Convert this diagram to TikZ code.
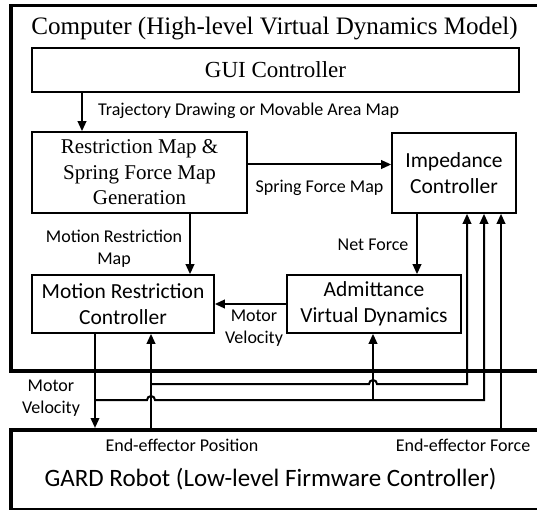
\documentclass[tikz,border=0pt]{standalone}
\usepackage{fontspec}
\setmainfont{Liberation Serif}
\newfontfamily\sansf{Carlito}
\usetikzlibrary{arrows.meta}
\newcommand\lblfont{\sansf\fontsize{18}{22}\selectfont}
\newcommand\boxsans{\sansf\fontsize{21.5}{25.5}\selectfont}
\newcommand\boxserif{\fontsize{21}{25.5}\selectfont}
\tikzset{
  box/.style={draw, line width=1.6pt, inner sep=0pt, align=center},
  outerbox/.style={draw, line width=3.5pt, inner sep=0pt},
  wire/.style={line width=2pt},
  arr/.style={wire, -{Triangle[length=10pt,width=8.5pt]}},
  lbl/.style={font=\lblfont, align=center, inner sep=0pt},
}
\begin{document}
\begin{tikzpicture}[x=1pt,y=-1pt]
\useasboundingbox (0,0) rectangle (537,510);
\clip (0,0) rectangle (537,510);
\fill[white] (0,0) rectangle (537,510);
% outer containers
\node[outerbox, anchor=north west, minimum width=560pt, minimum height=365pt] (comp) at (9,4) {};
\node[outerbox, anchor=north west, minimum width=560pt, minimum height=80pt] (gard) at (9,428) {};
\node[anchor=base, font=\fontsize{25.1}{30}\selectfont, inner sep=0pt] (title) at (274.5,35) {Computer (High-level Virtual Dynamics Model)};
% boxes
\node[box, minimum width=487pt, minimum height=44pt, font=\fontsize{23}{28}\selectfont] (gui) at (275.5,70) {GUI Controller};
\node[box, minimum width=215pt, minimum height=81pt, font=\boxserif] (rmap) at (139.5,172.5) {Restriction Map \&\\Spring Force Map\\Generation};
\node[box, minimum width=124pt, minimum height=80pt, font=\boxsans] (imp) at (454,173) {Impedance\\Controller};
\node[box, minimum width=182pt, minimum height=58pt, font=\boxsans] (mrc) at (123,304) {Motion Restriction\\Controller};
\node[box, minimum width=174pt, minimum height=58pt, font=\boxsans] (adm) at (374,304) {Admittance\\Virtual Dynamics};
% GARD texts
\node[font=\sansf\fontsize{25}{28}\selectfont, inner sep=0pt] (gardtxt) at (270.5,479) {GARD Robot (Low-level Firmware Controller)};
\node[lbl] (eepos) at (182,445) {End-effector Position};
\node[lbl] (eeforce) at (463,445) {End-effector Force};
% labels
\node[lbl, anchor=west] (trajlbl) at (98,111) {Trajectory Drawing or Movable Area Map};
\node[lbl] (sflbl) at (319.5,187.5) {Spring Force Map};
\node[lbl] (mrmlbl) at (114,249) {Motion Restriction\\Map};
\node[lbl] (nflbl) at (373,245) {Net Force};
\node[lbl] (mv1lbl) at (254,328) {Motor\\Velocity};
\node[lbl] (mv2lbl) at (51,398) {Motor\\Velocity};
% connectors
\draw[arr] (82,0 |- gui.south) -- (82,0 |- rmap.north);
\draw[arr] (rmap.east |- 0,164.5) -- (imp.west |- 0,164.5);
\draw[arr] (190,0 |- rmap.south) -- (190,0 |- mrc.north);
\draw[arr] (417,0 |- imp.south) -- (417,0 |- adm.north);
\draw[arr] (adm.west |- 0,304) -- (mrc.east |- 0,304);
\draw[arr] (95,0 |- mrc.south) -- (95,0 |- gard.north);
% feedback wires
\coordinate (w2s) at (95,400);
\coordinate (w1s) at (151,384);
\draw[arr] (w2s) -- (147,400) arc (180:360:4) -- (484,400) -- (484,0 |- imp.south);
\draw[arr] (373,400) -- (373,0 |- adm.south);
\draw[arr] (151,0 |- gard.north) -- (151,0 |- mrc.south);
\draw[arr] (w1s) -- (369,384) arc (180:360:4) -- (467,384) -- (467,0 |- imp.south);
\draw[arr] (501,0 |- gard.north) -- (501,0 |- imp.south);
\end{tikzpicture}
\end{document}
